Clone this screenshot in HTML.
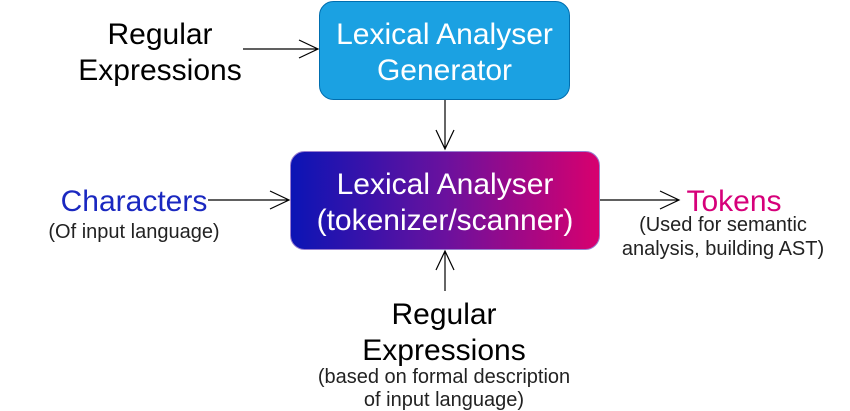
<!DOCTYPE html>
<html><head><meta charset="utf-8"><style>
html,body{margin:0;padding:0;background:#fff;}
svg{display:block;font-family:"Liberation Sans",Arial,sans-serif;}
</style></head><body>
<svg width="850" height="411" viewBox="0 0 850 411" xmlns="http://www.w3.org/2000/svg">
<defs>
<linearGradient id="g" x1="0" y1="0" x2="1" y2="0">
<stop offset="0" stop-color="#0b14b5"/>
<stop offset="0.5" stop-color="#6a119e"/>
<stop offset="1" stop-color="#d8006e"/>
</linearGradient>
</defs>
<rect x="319.5" y="1.5" width="250" height="98" rx="14" fill="#1ba1e2" stroke="#006eaf"/>
<text x="444.5" y="44" font-size="30" fill="#fff" text-anchor="middle">Lexical Analyser</text>
<text x="444.5" y="80" font-size="30" fill="#fff" text-anchor="middle">Generator</text>
<rect x="290.5" y="151.5" width="309" height="98" rx="14" fill="url(#g)" stroke="#9a7fd0"/>
<text x="445" y="194" font-size="30" fill="#fff" text-anchor="middle">Lexical Analyser</text>
<text x="445" y="230" font-size="30" fill="#fff" text-anchor="middle">(tokenizer/scanner)</text>
<g stroke="#000" stroke-width="1.2" fill="none">
<path d="M243 49H318M299 40L318 49L299 58"/>
<path d="M445 100V149M436 130L445 149L454 130"/>
<path d="M208 200H289M270 191L289 200L270 209"/>
<path d="M600 200H679M660 191L679 200L660 209"/>
<path d="M445 291V251M436 270L445 251L454 270"/>
</g>
<g font-size="30" fill="#000" text-anchor="middle">
<text x="160" y="44">Regular</text>
<text x="160" y="80">Expressions</text>
<text x="444" y="324">Regular</text>
<text x="444" y="360">Expressions</text>
</g>
<text x="134" y="211" font-size="30" fill="#1a28c0" text-anchor="middle">Characters</text>
<text x="734" y="211" font-size="30" fill="#d6007a" text-anchor="middle">Tokens</text>
<g font-size="20" fill="#222" text-anchor="middle">
<text x="134" y="238">(Of input language)</text>
<text x="723" y="231">(Used for semantic</text>
<text x="723" y="255">analysis, building AST)</text>
<text x="444" y="383">(based on formal description</text>
<text x="444" y="406">of input language)</text>
</g>
</svg>
</body></html>
